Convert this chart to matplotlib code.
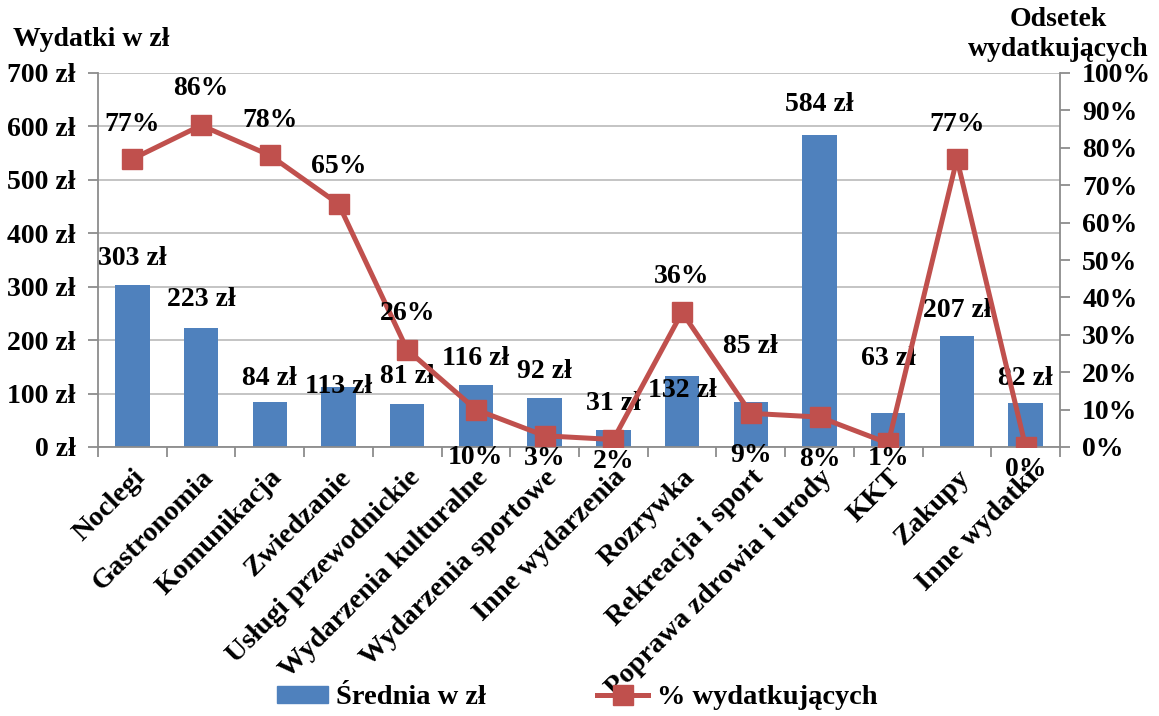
import numpy as np
import matplotlib
matplotlib.use("Agg")
import matplotlib.pyplot as plt
from matplotlib.lines import Line2D
from matplotlib.patches import Patch

categories = ["Noclegi", "Gastronomia", "Komunikacja", "Zwiedzanie",
              "Usługi przewodnickie", "Wydarzenia kulturalne", "Wydarzenia sportowe",
              "Inne wydarzenia", "Rozrywka", "Rekreacja i sport",
              "Poprawa zdrowia i urody", "KKT", "Zakupy", "Inne wydatki"]
avg_pln = [303, 223, 84, 113, 81, 116, 92, 31, 132, 85, 584, 63, 207, 82]
pct_spending = [77, 86, 78, 65, 26, 10, 3, 2, 36, 9, 8, 1, 77, 0]
left_ticks = [0, 100, 200, 300, 400, 500, 600, 700]
right_ticks = [0, 10, 20, 30, 40, 50, 60, 70, 80, 90, 100]

# label placement (pixel offsets from mark, positive = up)
bar_label_dy = [27, 28, 24, 0, 27, 27, 26, 27, -14, 55, 30, 55, 26, 25]
pct_label_dy = [35, 37, 35, 37, 36, -48, -23, -22, 36, -42, -42, -15, 35, -22]

plt.rcParams['font.family'] = ['Liberation Serif', 'DejaVu Serif']
plt.rcParams['font.weight'] = 'bold'
FS = 20
FS_CAT = 20.5
BLUE = '#4F81BD'
RED = '#C0504D'
GRAY = '#8C8C8C'

fig = plt.figure(figsize=(11.59, 7.16), dpi=100)
ax = fig.add_axes([98/1159, 1 - 447/716, (1060 - 98)/1159, (447 - 73)/716])
x = np.arange(len(categories))
ax.bar(x, avg_pln, width=0.5, color=BLUE, zorder=2)
ax.set_xlim(-0.5, len(categories) - 0.5)
ax.set_ylim(0, 700)
ax.set_yticks(left_ticks)
ax.set_yticklabels([f"{v} zł" for v in left_ticks], fontsize=FS, fontweight='bold')
ax.yaxis.grid(True, color='#BFBFBF', lw=1.3, zorder=0)
ax.set_axisbelow(True)
ax.tick_params(axis='y', length=7, width=1.3, color=GRAY, pad=9)
for s in ['top', 'right']:
    ax.spines[s].set_visible(False)
for s in ['left', 'bottom']:
    ax.spines[s].set_color(GRAY)
    ax.spines[s].set_linewidth(1.3)

ax.set_xticks(np.arange(-0.5, len(categories), 1))
ax.set_xticklabels([])
ax.tick_params(axis='x', which='major', length=7, width=1.3, color=GRAY)
ax.set_xticks(x, minor=True)
ax.set_xticklabels(categories, minor=True, rotation=45, ha='right',
                   rotation_mode='anchor', fontsize=FS_CAT, fontweight='bold')
ax.tick_params(axis='x', which='minor', length=0, pad=13)

for xi, v, dy in zip(x, avg_pln, bar_label_dy):
    ax.annotate(f"{v} zł", (xi, v), xytext=(0, dy), textcoords='offset pixels',
                ha='center', va='center', fontsize=FS, fontweight='bold', zorder=5)

ax2 = ax.twinx()
ax2.plot(x, pct_spending, color=RED, lw=3.6, marker='s', ms=14, zorder=3)
ax2.set_ylim(0, 100)
ax2.set_yticks(right_ticks)
ax2.set_yticklabels([f"{v}%" for v in right_ticks], fontsize=FS, fontweight='bold')
ax2.tick_params(axis='y', length=7, width=1.3, color=GRAY, pad=9)
for s in ['top', 'left', 'bottom']:
    ax2.spines[s].set_visible(False)
ax2.spines['right'].set_color(GRAY)
ax2.spines['right'].set_linewidth(1.3)

for xi, v, dy in zip(x, pct_spending, pct_label_dy):
    ax2.annotate(f"{v}%", (xi, v), xytext=(0, dy), textcoords='offset pixels',
                 ha='center', va='center', fontsize=FS, fontweight='bold', zorder=5)

fig.text(13/1159, 1 - 40/716, "Wydatki w zł", ha='left', va='center',
         fontsize=FS, fontweight='bold')
fig.text(1058/1159, 1 - 19/716, "Odsetek", ha='center', va='center',
         fontsize=FS, fontweight='bold')
fig.text(1058/1159, 1 - 49/716, "wydatkujących", ha='center', va='center',
         fontsize=FS, fontweight='bold')

handles = [Patch(color=BLUE),
           Line2D([0], [0], color=RED, lw=3.6, marker='s', ms=14)]
fig.legend(handles, ["Średnia w zł", "% wydatkujących"], loc='center',
           bbox_to_anchor=(577/1159, 1 - 698/716), ncol=2, frameon=False,
           prop={'family': 'Liberation Serif', 'weight': 'bold', 'size': FS_CAT},
           handlelength=1.8, handletextpad=0.3, columnspacing=3.9,
           handleheight=0.5)

fig.savefig("out.png", dpi=100)
